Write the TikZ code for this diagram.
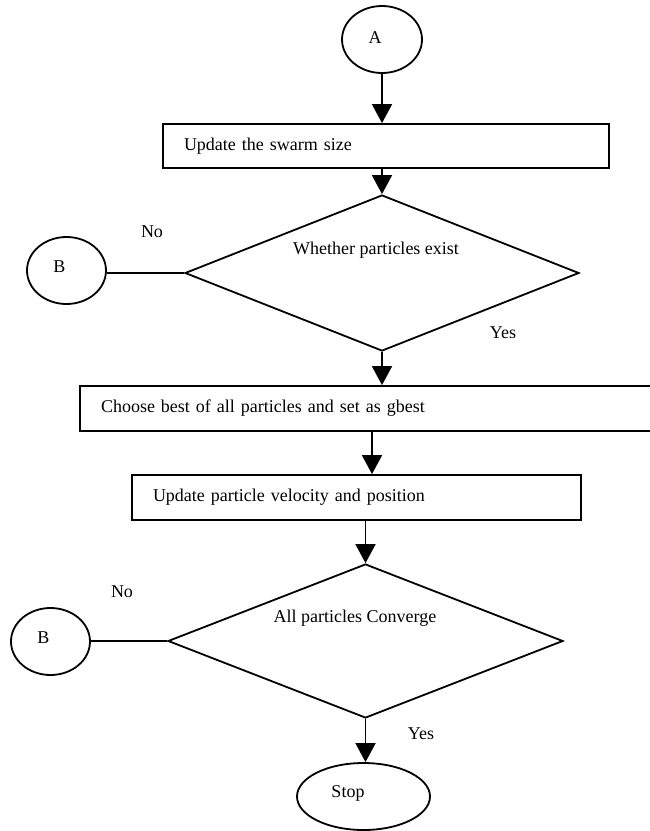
\documentclass[tikz,border=0pt]{standalone}
\usepackage{fontspec}
\setmainfont{Liberation Serif}
\usetikzlibrary{shapes.geometric,arrows.meta}
\begin{document}
\begin{tikzpicture}[x=1pt,y=-1pt,
  every node/.style={font=\fontsize{18}{21}\selectfont},
  ln/.style={line width=1.8pt},
  oval/.style={ellipse, draw, line width=1.8pt, inner sep=0pt},
  procbox/.style={rectangle, draw, line width=1.8pt, align=left, inner xsep=21pt, inner ysep=0pt},
  decision/.style={diamond, draw, line width=1.8pt, inner sep=0pt},
  arr/.style={line width=1.8pt, -{Triangle[width=20pt,length=19pt]}},
  lbl/.style={inner sep=0pt}]
\useasboundingbox (0,0) rectangle (650,831);

\node[oval, minimum width=80pt, minimum height=67pt, label={[xshift=-7pt,yshift=2pt]center:A}] (A) at (382,39.5) {};
\node[procbox, text width=404pt, minimum height=44pt] (box1) at (386,146) {Update the swarm size};
\node[decision, minimum width=394pt, minimum height=156pt, label={[xshift=-6pt,yshift=23pt]center:Whether particles exist}] (d1) at (382,273) {};
\node[oval, minimum width=79pt, minimum height=67pt, label={[xshift=-7pt,yshift=4pt]center:B}] (B1) at (66.5,270.5) {};
\node[lbl] (no1) at (152,232) {No};
\node[lbl] (yes1) at (503,333) {Yes};
\node[procbox, text width=531pt, minimum height=45pt] (box2) at (366.5,408.5) {Choose best of all particles and set as gbest};
\node[procbox, text width=407pt, minimum height=45pt] (box3) at (356.5,497.5) {Update particle velocity and position};
\node[decision, minimum width=395pt, minimum height=154pt, label={[xshift=-10.5pt,yshift=23pt]center:All particles Converge}] (d2) at (365.5,641) {};
\node[oval, minimum width=79pt, minimum height=67pt, label={[xshift=-7pt,yshift=3.5pt]center:B}] (B2) at (50.5,641.5) {};
\node[lbl] (no2) at (122,592) {No};
\node[lbl] (yes2) at (421,734) {Yes};
\node[oval, minimum width=133pt, minimum height=67pt, label={[xshift=-15.5pt,yshift=3.5pt]center:Stop}] (stop) at (363.5,796.5) {};

\coordinate (c1) at (372,0);
\draw[arr] (A.south) -- (A.south |- box1.north);
\draw[arr] (box1.south -| d1.north) -- (d1.north);
\draw[ln] (d1.west -| B1.east) -- (d1.west);
\draw[arr] (d1.south) -- (d1.south |- box2.north);
\draw[arr] (box2.south -| c1) -- (box3.north -| c1);
\draw[arr] (box3.south -| d2.north) -- (d2.north);
\draw[ln] (d2.west -| B2.east) -- (d2.west);
\draw[arr] (d2.south) -- (d2.south |- stop.north);
\end{tikzpicture}
\end{document}
